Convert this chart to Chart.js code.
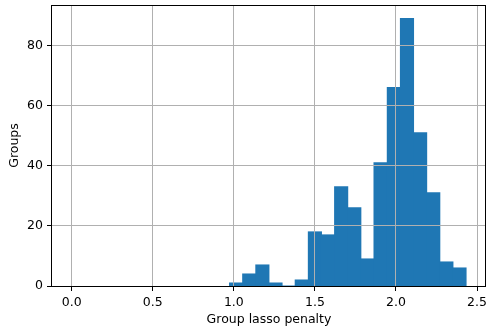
<!DOCTYPE html>
<html>
<head>
<meta charset="utf-8">
<script src="https://cdn.jsdelivr.net/npm/chart.js@4/dist/chart.umd.min.js"></script>
<style>
html,body{margin:0;padding:0;background:#fff;}
canvas{display:block;}
</style>
</head>
<body>
<canvas id="c" width="489" height="336"></canvas>
<script>
// Histogram bin centres (bin width ~0.0811) and counts
const binCenters = [1.014, 1.095, 1.176, 1.257, 1.338, 1.419, 1.500, 1.581, 1.662, 1.743, 1.824, 1.905, 1.987, 2.068, 2.149, 2.230, 2.311, 2.392];
const counts     = [1, 4, 7, 1, 0, 2, 18, 17, 33, 26, 9, 41, 66, 89, 51, 31, 8, 6];
const xTicks = [0.0, 0.5, 1.0, 1.5, 2.0, 2.5];
const yTicks = [0, 20, 40, 60, 80];
const xRange = [-0.1216, 2.5554];
const yRange = [0, 93.45];
const xLabel = 'Group lasso penalty';
const yLabel = 'Groups';

const FONT = {family: "'DejaVu Sans', sans-serif", size: 12.5};

const framePlugin = {
  id: 'frame',
  afterDraw(chart) {
    const {ctx, chartArea: a} = chart;
    ctx.save();
    ctx.strokeStyle = '#000';
    ctx.lineWidth = 1;
    ctx.strokeRect(Math.round(a.left) - 0.5, Math.round(a.top) + 0.5, Math.round(a.right - a.left), Math.round(a.bottom - a.top));
    ctx.restore();
  }
};

new Chart(document.getElementById('c'), {
  type: 'bar',
  data: {
    datasets: [{
      data: binCenters.map((x, i) => ({x: x, y: counts[i]})),
      backgroundColor: '#1f77b4',
      borderWidth: 0,
      inflateAmount: 0.5,
      barPercentage: 1.0,
      categoryPercentage: 1.0
    }]
  },
  options: {
    responsive: false,
    animation: false,
    devicePixelRatio: 1,
    layout: {padding: {top: 5, right: 3, left: 0, bottom: 0}},
    plugins: {legend: {display: false}, tooltip: {enabled: false}},
    scales: {
      x: {
        type: 'linear',
        min: xRange[0],
        max: xRange[1],
        offset: false,
        afterBuildTicks(scale) { scale.ticks = xTicks.map(v => ({value: v})); },
        afterFit(scale) { scale.height = 50; scale.paddingLeft = 0; scale.paddingRight = 0; },
        ticks: {
          color: '#000',
          font: FONT,
          padding: 4,
          maxRotation: 0,
          autoSkip: false,
          callback: v => Number(v).toFixed(1)
        },
        grid: {offset: false, color: '#b0b0b0', lineWidth: 1, z: 1, tickLength: 5, tickColor: '#000', tickWidth: 1},
        border: {display: false},
        title: {display: true, text: xLabel, color: '#000', font: FONT, padding: {top: 0, bottom: 9}}
      },
      y: {
        type: 'linear',
        min: yRange[0],
        max: yRange[1],
        afterBuildTicks(scale) { scale.ticks = yTicks.map(v => ({value: v})); },
        afterFit(scale) { scale.width = 52; scale.paddingTop = 0; scale.paddingBottom = 0; },
        ticks: {color: '#000', font: FONT, padding: 4},
        grid: {color: '#b0b0b0', lineWidth: 1, z: 1, tickLength: 5, tickColor: '#000', tickWidth: 1},
        border: {display: false},
        title: {display: true, text: yLabel, color: '#000', font: FONT, padding: {top: 7, bottom: 0}}
      }
    }
  },
  plugins: [framePlugin]
});
</script>
</body>
</html>
